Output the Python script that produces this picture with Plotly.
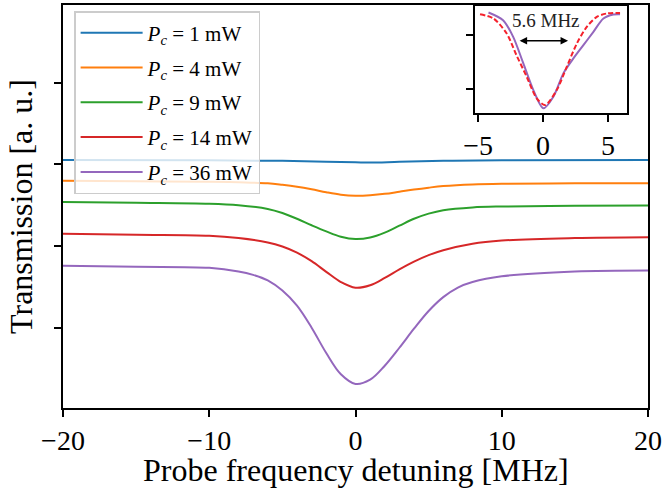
import plotly.graph_objects as go

# ---------------- data (main panel) ----------------
labels = ["<i>P<sub>c</sub></i> = 1 mW", "<i>P<sub>c</sub></i> = 4 mW", "<i>P<sub>c</sub></i> = 9 mW",
          "<i>P<sub>c</sub></i> = 14 mW", "<i>P<sub>c</sub></i> = 36 mW"]
colors = ["#1f77b4", "#ff7f0e", "#2ca02c", "#d62728", "#9467bd"]

x_1mw = [-20, -10, -5, -2, 0, 1, 3, 6, 10, 20]
y_1mw = [3.056, 3.050, 3.044, 3.032, 3.026, 3.023, 3.032, 3.044, 3.050, 3.056]

x_grid = [-20, -15, -10, -8, -6, -5, -4, -3, -2, -1, 0, 1, 2, 3, 4, 5, 6, 8, 10, 15, 20]
y_4mw = [2.800, 2.794, 2.788, 2.781, 2.769, 2.750, 2.726, 2.695, 2.659, 2.630, 2.618,
         2.624, 2.640, 2.666, 2.693, 2.716, 2.735, 2.755, 2.763, 2.769, 2.771]
y_9mw = [2.539, 2.530, 2.518, 2.500, 2.455, 2.405, 2.335, 2.255, 2.180, 2.115, 2.086,
         2.105, 2.165, 2.250, 2.335, 2.398, 2.440, 2.474, 2.485, 2.493, 2.497]
y_14mw = [2.151, 2.138, 2.126, 2.098, 2.045, 1.995, 1.920, 1.815, 1.685, 1.560, 1.490,
          1.520, 1.610, 1.715, 1.810, 1.890, 1.950, 2.030, 2.068, 2.098, 2.108]

x_36mw = [-20, -15, -10, -8, -7, -6, -5, -4, -3, -2, -1, 0, 1, 2, 3, 4, 5, 6, 7, 8, 10, 15, 20]
y_36mw = [1.759, 1.747, 1.734, 1.690, 1.648, 1.580, 1.455, 1.270, 1.000, 0.690, 0.430, 0.312,
          0.364, 0.535, 0.755, 0.988, 1.205, 1.375, 1.492, 1.560, 1.630, 1.689, 1.701]

xs = [x_1mw, x_grid, x_grid, x_grid, x_36mw]
ys = [y_1mw, y_4mw, y_9mw, y_14mw, y_36mw]

x_ticks = [-20, -10, 0, 10, 20]
x_ticktext = ["\u221220", "\u221210", "0", "10", "20"]
y_ticks = [1, 2, 3, 4]
x_title = "Probe frequency detuning [MHz]"
y_title = "Transmission [a. u.]"

# ---------------- data (inset) ----------------
inset_x_meas = [-4.2, -3.08, -2.3, -1.52, -0.75, 0.02, 0.79, 1.56, 2.33, 3.1, 3.87, 4.64, 5.4, 5.92]
inset_y_meas = [2.418, 2.276, 1.969, 1.479, 0.987, 0.650, 0.864, 1.295, 1.571, 1.816, 2.061, 2.308, 2.381, 2.387]
inset_x_fit = [-4.85, -3.82, -2.8, -2.05, -1.26, -0.49, 0.15, 1.05, 1.82, 2.6, 3.36, 4.13, 4.9, 5.92]
inset_y_fit = [2.387, 2.308, 2.031, 1.632, 1.232, 0.834, 0.711, 0.987, 1.416, 1.847, 2.153, 2.337, 2.400, 2.411]
inset_x_ticks = [-5, 0, 5]
inset_x_ticktext = ["\u22125", "0", "5"]
inset_y_ticks = [1, 2]
fwhm_label = "5.6 MHz"
arrow_x = [-1.92, 1.92]
arrow_y = 1.895
label_pos = (0.2, 2.276)

FONT = "Liberation Serif"

fig = go.Figure()
for i, (x, y, name, c) in enumerate(zip(xs, ys, labels, colors)):
    fig.add_trace(go.Scatter(x=x, y=y, mode="lines", name=name, legendgroup=f"g{i}",
                             line=dict(color=c, width=2, shape="spline", smoothing=1.0),
                             xaxis="x", yaxis="y"))

fig.add_trace(go.Scatter(x=inset_x_meas, y=inset_y_meas, mode="lines", showlegend=False,
                         line=dict(color="#9467bd", width=2, shape="spline", smoothing=0.8),
                         xaxis="x2", yaxis="y2"))
fig.add_trace(go.Scatter(x=inset_x_fit, y=inset_y_fit, mode="lines", showlegend=False,
                         line=dict(color="#f5222d", width=2, dash="5px,2.5px", shape="spline", smoothing=0.8),
                         xaxis="x2", yaxis="y2"))

axis_common = dict(showline=True, linecolor="black", linewidth=1.5, mirror=True,
                   ticks="outside", ticklen=7, tickwidth=1.5, tickcolor="black",
                   showgrid=False, zeroline=False, automargin=False)

fig.update_layout(
    width=663, height=503,
    margin=dict(l=63, r=15, t=5, b=95),
    paper_bgcolor="white", plot_bgcolor="white",
    font=dict(family=FONT, color="black"),
    xaxis=dict(domain=[0, 1], range=[-20, 20], tickvals=x_ticks, ticktext=x_ticktext,
               tickfont=dict(size=28, family=FONT), **axis_common),
    yaxis=dict(domain=[0, 1], range=[0.017, 4.953], tickvals=y_ticks, showticklabels=False,
               title=dict(text=y_title, font=dict(size=32, family=FONT), standoff=12),
               **axis_common),
    xaxis2=dict(domain=[0.704, 0.964], anchor="y2", range=[-5.25, 6.45],
                tickvals=inset_x_ticks, ticktext=inset_x_ticktext,
                tickfont=dict(size=28, family=FONT), **axis_common),
    yaxis2=dict(domain=[0.732, 0.997], anchor="x2", range=[0.564, 2.534],
                tickvals=inset_y_ticks, showticklabels=False, **axis_common),
    legend=dict(x=0.019, y=0.985, xanchor="left", yanchor="top",
                bgcolor="rgba(255,255,255,0.8)", bordercolor="#cccccc", borderwidth=1.5,
                tracegroupgap=4.5, itemwidth=62,
                font=dict(size=21, family=FONT)),
    showlegend=True,
)

fig.add_annotation(x=0.5, y=-0.155, xref="paper", yref="paper", text=x_title,
                   showarrow=False, yanchor="middle", font=dict(size=32, family=FONT))
fig.add_annotation(x=arrow_x[1], y=arrow_y, ax=arrow_x[0], ay=arrow_y,
                   xref="x2", yref="y2", axref="x2", ayref="y2", text="",
                   showarrow=True, arrowhead=2, startarrowhead=2, arrowside="end+start",
                   arrowsize=1, arrowwidth=1.5, arrowcolor="black")
fig.add_annotation(x=label_pos[0], y=label_pos[1], xref="x2", yref="y2", text=fwhm_label,
                   showarrow=False, font=dict(size=19, family=FONT, color="#222222"))

fig.write_html("out.html", config={"displayModeBar": False},
               post_script="document.body.style.margin='0px';")
